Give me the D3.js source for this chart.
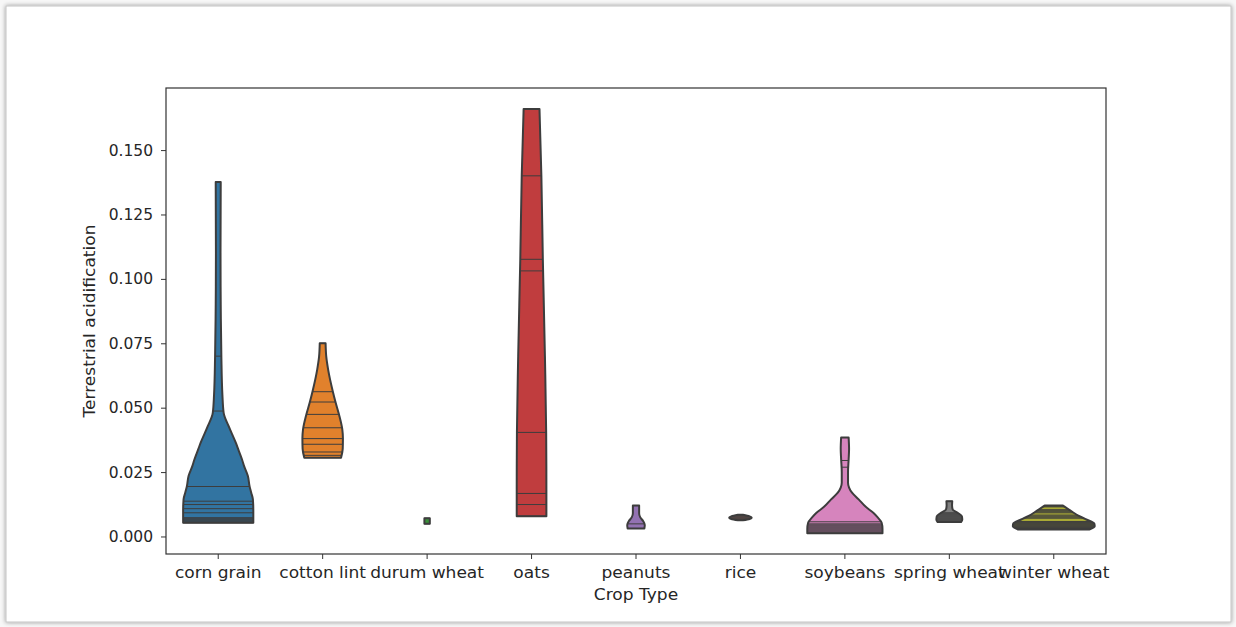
<!DOCTYPE html>
<html>
<head>
<meta charset="utf-8">
<script src="https://cdn.jsdelivr.net/npm/d3@7"></script>
<style>
  html, body { margin: 0; padding: 0; background: #f7f7f7; }
  svg { display: block; }
  text { font-family: "DejaVu Sans", sans-serif; fill: #262626; }
</style>
</head>
<body>
<svg id="chart" width="1236" height="627"></svg>
<script>
// Crop categories on the x axis
const categories = ["corn grain", "cotton lint", "durum wheat", "oats", "peanuts",
                    "rice", "soybeans", "spring wheat", "winter wheat"];
const palette = ["#3274a1", "#e1812c", "#3a923a", "#c03d3e", "#9372b2",
                 "#845b53", "#d684bd", "#7f7f7f", "#a9aa35"];
const yTicks = [0, 0.025, 0.05, 0.075, 0.1, 0.125, 0.15];

// Observations per crop (one stick each) and the density profile [value, relative density]
const cornGrainObs = [0.0053, 0.0057, 0.0061, 0.0065, 0.0069, 0.0073, 0.0092, 0.0108, 0.0124, 0.0137, 0.0194, 0.0487, 0.0700, 0.1376];
const cornGrainDensity = [[0.0053, 0.84], [0.0100, 0.84], [0.0144, 0.83], [0.0170, 0.79], [0.0195, 0.75], [0.0235, 0.71], [0.0273, 0.62], [0.0299, 0.57], [0.0338, 0.48], [0.0364, 0.42], [0.0428, 0.25], [0.0480, 0.13], [0.0550, 0.10], [0.0700, 0.075], [0.0900, 0.06], [0.1100, 0.055], [0.1376, 0.06]];

const cottonLintObs = [0.0306, 0.0315, 0.0328, 0.0358, 0.0380, 0.0422, 0.0474, 0.0522, 0.0562, 0.0750];
const cottonLintDensity = [[0.0306, 0.44], [0.0340, 0.48], [0.0380, 0.485], [0.0416, 0.47], [0.0468, 0.40], [0.0520, 0.31], [0.0565, 0.24], [0.0649, 0.13], [0.0700, 0.085], [0.0750, 0.07]];

const durumWheatObs = [0.0049, 0.0071];
const durumWheatDensity = [[0.0049, 0.065], [0.0071, 0.065]];

const oatsObs = [0.0079, 0.0124, 0.0167, 0.0404, 0.1031, 0.1076, 0.1400, 0.1659];
const oatsDensity = [[0.0079, 0.355], [0.0183, 0.355], [0.0403, 0.35], [0.0700, 0.32], [0.1076, 0.27], [0.1400, 0.235], [0.1659, 0.19]];

const peanutsObs = [0.0031, 0.0049, 0.0120];
const peanutsDensity = [[0.0031, 0.20], [0.0045, 0.21], [0.0060, 0.17], [0.0075, 0.10], [0.0090, 0.075], [0.0120, 0.075]];

const riceObs = [0.0064, 0.0068, 0.0072, 0.0076, 0.0080, 0.0084];
const riceDensity = [[0.0063, 0.06], [0.0068, 0.22], [0.0073, 0.27], [0.0078, 0.22], [0.0084, 0.06]];

const soybeansObs = [0.0013, 0.0017, 0.0021, 0.0025, 0.0029, 0.0033, 0.0037, 0.0041, 0.0045, 0.0049, 0.0057, 0.0269, 0.0295, 0.0384];
const soybeansDensity = [[0.0013, 0.90], [0.0030, 0.90], [0.0053, 0.88], [0.0075, 0.78], [0.0092, 0.68], [0.0115, 0.50], [0.0144, 0.33], [0.0170, 0.17], [0.0190, 0.10], [0.0209, 0.075], [0.0250, 0.075], [0.0300, 0.09], [0.0340, 0.10], [0.0384, 0.09]];

const springWheatObs = [0.0056, 0.0060, 0.0064, 0.0068, 0.0072, 0.0076, 0.0080, 0.0084, 0.0088, 0.0092, 0.0137];
const springWheatDensity = [[0.0056, 0.28], [0.0065, 0.31], [0.0079, 0.30], [0.0092, 0.20], [0.0105, 0.08], [0.0120, 0.065], [0.0137, 0.07]];

const winterWheatObs = [0.0027, 0.0031, 0.0035, 0.0039, 0.0043, 0.0047, 0.0050, 0.0054, 0.0058, 0.0071, 0.0075, 0.0079, 0.0083, 0.0092, 0.0096, 0.0100, 0.0104, 0.0115, 0.0118];
const winterWheatDensity = [[0.0027, 0.85], [0.0040, 0.98], [0.0050, 0.97], [0.0066, 0.78], [0.0080, 0.60], [0.0095, 0.45], [0.0111, 0.30], [0.0120, 0.22]];

const violins = [
  { crop: "corn grain", obs: cornGrainObs, density: cornGrainDensity },
  { crop: "cotton lint", obs: cottonLintObs, density: cottonLintDensity },
  { crop: "durum wheat", obs: durumWheatObs, density: durumWheatDensity },
  { crop: "oats", obs: oatsObs, density: oatsDensity },
  { crop: "peanuts", obs: peanutsObs, density: peanutsDensity },
  { crop: "rice", obs: riceObs, density: riceDensity },
  { crop: "soybeans", obs: soybeansObs, density: soybeansDensity },
  { crop: "spring wheat", obs: springWheatObs, density: springWheatDensity },
  { crop: "winter wheat", obs: winterWheatObs, density: winterWheatDensity }
];

const svg = d3.select("#chart");
const edge = "#3d3d3d";

// Card behind the figure
const defs = svg.append("defs");
const shadow = defs.append("filter").attr("id", "cardShadow")
  .attr("x", "-2%").attr("y", "-2%").attr("width", "104%").attr("height", "104%");
shadow.append("feGaussianBlur").attr("in", "SourceAlpha").attr("stdDeviation", 2).attr("result", "b");
shadow.append("feComponentTransfer").attr("in", "b").attr("result", "s")
  .append("feFuncA").attr("type", "linear").attr("slope", 0.4);
const merge = shadow.append("feMerge");
merge.append("feMergeNode").attr("in", "s");
merge.append("feMergeNode").attr("in", "SourceGraphic");

svg.append("rect").attr("x", 6).attr("y", 6).attr("width", 1225).attr("height", 616)
  .attr("fill", "#ffffff").attr("stroke", "#c4c4c4").attr("stroke-width", 1)
  .attr("filter", "url(#cardShadow)");

const plot = { left: 166, right: 1106, top: 88, bottom: 554 };

const x = d3.scaleBand().domain(categories).range([plot.left, plot.right]).padding(0);
const y = d3.scaleLinear().domain([-0.0068, 0.1741]).range([plot.bottom, plot.top]);
const w = d3.scaleLinear().domain([0, 1]).range([0, x.bandwidth() * 0.8]);
const color = d3.scaleOrdinal().domain(categories).range(palette);

function densityAt(profile, v) {
  if (v <= profile[0][0]) return profile[0][1];
  for (let i = 1; i < profile.length; i++) {
    const a = profile[i - 1], b = profile[i];
    if (v <= b[0]) {
      const t = (v - a[0]) / (b[0] - a[0]);
      return a[1] + t * (b[1] - a[1]);
    }
  }
  return profile[profile.length - 1][1];
}

const g = svg.append("g");

violins.forEach(vn => {
  const cx = x(vn.crop) + x.bandwidth() / 2;
  const pts = vn.density.slice().sort((a, b) => b[0] - a[0]);
  const area = d3.area()
    .curve(d3.curveMonotoneY)
    .y(d => y(d[0]))
    .x0(d => cx - w(d[1]) / 2)
    .x1(d => cx + w(d[1]) / 2);
  g.append("path").attr("d", area(pts))
    .attr("fill", color(vn.crop))
    .attr("stroke", edge).attr("stroke-width", 2)
    .attr("stroke-linejoin", "round");
  g.selectAll(null).data(vn.obs).enter().append("line")
    .attr("x1", d => cx - w(densityAt(vn.density, d)) / 2)
    .attr("x2", d => cx + w(densityAt(vn.density, d)) / 2)
    .attr("y1", d => y(d)).attr("y2", d => y(d))
    .attr("stroke", edge).attr("stroke-width", 1);
});

// Axes
const yAxis = d3.axisLeft(y).tickValues(yTicks).tickFormat(d3.format(".3f")).tickSizeOuter(0).tickSize(5).tickPadding(8);
const xAxis = d3.axisBottom(x).tickSizeOuter(0).tickSize(5).tickPadding(8);

const ya = svg.append("g").attr("transform", `translate(${plot.left},0)`).call(yAxis);
const xa = svg.append("g").attr("transform", `translate(0,${plot.bottom})`).call(xAxis);
[ya, xa].forEach(a => {
  a.select(".domain").remove();
  a.selectAll(".tick line").attr("stroke", "#333");
  a.selectAll(".tick text").attr("font-size", 15.5).attr("fill", "#262626")
    .attr("font-family", "DejaVu Sans, sans-serif");
});
xa.selectAll(".tick text").attr("transform", "scale(1.1,1)");

// Frame
svg.append("rect")
  .attr("x", plot.left).attr("y", plot.top)
  .attr("width", plot.right - plot.left).attr("height", plot.bottom - plot.top)
  .attr("fill", "none").attr("stroke", "#333").attr("stroke-width", 1.2);

// Axis titles
svg.append("text")
  .attr("transform", `translate(${(plot.left + plot.right) / 2},600) scale(1.1,1)`)
  .attr("text-anchor", "middle").attr("font-size", 15.5)
  .text("Crop Type");
svg.append("text")
  .attr("transform", `translate(95,${(plot.top + plot.bottom) / 2}) rotate(-90) scale(1.1,1)`)
  .attr("text-anchor", "middle").attr("font-size", 15.5)
  .text("Terrestrial acidification");
</script>
</body>
</html>
